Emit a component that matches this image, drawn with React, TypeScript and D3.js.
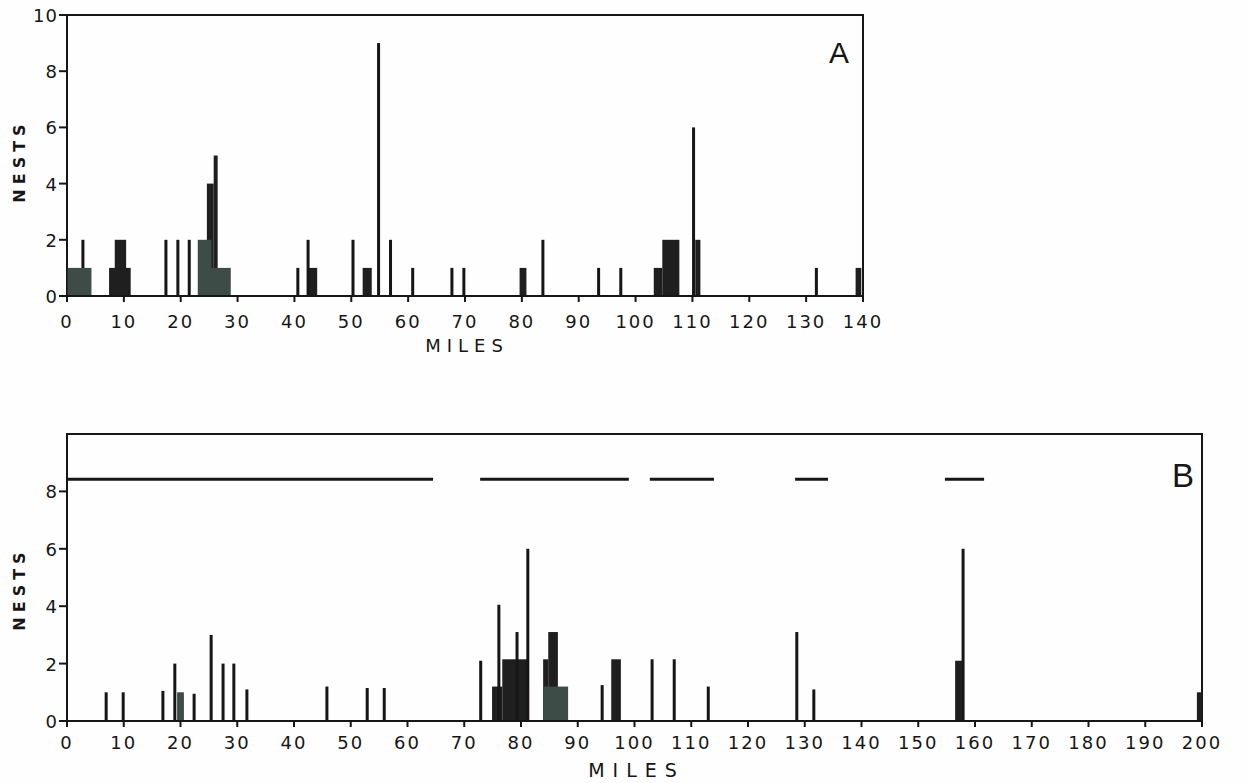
import React from "react";
import * as d3 from "d3";

// ---------- DATA ----------
// Panel A: single-site counts drawn as thin bars [mile, nests]
const aLines: [number, number][] = [
  [2.8, 2], [17.4, 2], [19.5, 2], [21.5, 2], [40.6, 1], [42.4, 2], [50.3, 2],
  [54.8, 9], [56.9, 2], [60.8, 1], [67.7, 1], [69.8, 1], [83.7, 2], [93.5, 1],
  [97.4, 1], [110.2, 6], [131.8, 1],
];
// Panel A: range blocks [startMile, endMile, nests, shade]
const aBlocks: [number, number, number, string][] = [
  [7.4, 11.2, 1, "dark"], [8.4, 10.4, 2, "dark"], [24.6, 25.8, 4, "dark"],
  [25.8, 26.5, 5, "dark"], [42.5, 44.0, 1, "dark"], [52.0, 53.6, 1, "dark"],
  [79.6, 80.8, 1, "dark"], [103.2, 104.7, 1, "dark"], [104.7, 107.7, 2, "dark"],
  [110.5, 111.4, 2, "dark"], [138.7, 139.7, 1, "dark"],
  [0.1, 4.3, 1, "gray"], [23.0, 25.4, 2, "gray"], [23.4, 28.8, 1, "gray"],
];

// Panel B
const bLines: [number, number][] = [
  [6.9, 1], [9.9, 1], [16.9, 1.05], [19.0, 2], [22.4, 0.95], [25.4, 3], [27.5, 2],
  [29.4, 2], [31.7, 1.1], [45.8, 1.2], [52.9, 1.15], [55.9, 1.15], [72.9, 2.1],
  [76.1, 4.05], [79.3, 3.1], [81.2, 6], [94.3, 1.25], [103.1, 2.15], [107.0, 2.15],
  [113.0, 1.2], [128.6, 3.1], [131.6, 1.1], [157.9, 6],
];
const bBlocks: [number, number, number, string][] = [
  [74.9, 76.7, 1.2, "dark"], [76.7, 81.1, 2.15, "dark"], [83.9, 84.8, 2.15, "dark"],
  [84.8, 86.5, 3.1, "dark"], [95.9, 97.6, 2.15, "dark"], [156.5, 157.7, 2.1, "dark"],
  [199.1, 200, 1, "dark"],
  [19.4, 20.6, 1, "gray"], [83.9, 88.3, 1.2, "gray"],
];
// Panel B: horizontal range segments near the top [startMile, endMile]
const bSegments: [number, number][] = [
  [0, 64.5], [72.8, 99.0], [102.7, 114.0], [128.3, 134.1], [154.7, 161.6],
];
const bSegmentLevel = 8.42;

const aXTicks = d3.range(0, 141, 10);
const aYTicks = [0, 2, 4, 6, 8, 10];
const bXTicks = d3.range(0, 201, 10);
const bYTicks = [0, 2, 4, 6, 8];

const yLabel = "NESTS";
const xLabel = "MILES";

// ---------- STYLE ----------
const INK = "#161616";
const FILL: Record<string, string> = { dark: "#1f1f1f", gray: "#3d4c47" };
const FONT = "'DejaVu Sans', sans-serif";

type PanelProps = {
  x: d3.ScaleLinear<number, number>;
  y: d3.ScaleLinear<number, number>;
  lines: [number, number][];
  blocks: [number, number, number, string][];
  xTicks: number[];
  yTicks: number[];
  letter: string;
  letterPos: [number, number, number];
  nestsY: number;
  tickLabelOffset: number;
  milesY: number;
  milesSize: number;
  milesSpacing: number;
  segments?: [number, number][];
};

function Panel(p: PanelProps) {
  const [x0, x1] = p.x.range();
  const [y0, y1] = p.y.range();
  const dark = p.blocks.filter((b) => b[3] === "dark");
  const gray = p.blocks.filter((b) => b[3] === "gray");
  const lw = 3;
  return (
    <g>
      {/* frame */}
      <path
        d={`M${x0},${y0 + 6} L${x0},${y1} L${x1},${y1} L${x1},${y0 + 6}`}
        fill="none"
        stroke={INK}
        strokeWidth={2}
      />
      {dark.map((b, i) => (
        <rect key={"d" + i} x={p.x(b[0])} width={p.x(b[1]) - p.x(b[0])} y={p.y(b[2])}
          height={p.y(0) - p.y(b[2])} fill={FILL.dark} />
      ))}
      {p.lines.map((l, i) => (
        <rect key={"l" + i} x={p.x(l[0]) - lw / 2} width={lw} y={p.y(l[1])}
          height={p.y(0) - p.y(l[1])} fill={INK} />
      ))}
      {gray.map((b, i) => (
        <rect key={"g" + i} x={p.x(b[0])} width={p.x(b[1]) - p.x(b[0])} y={p.y(b[2])}
          height={p.y(0) - p.y(b[2])} fill={FILL.gray} />
      ))}
      {p.segments &&
        p.segments.map((s, i) => (
          <line key={"s" + i} x1={p.x(s[0])} x2={p.x(s[1])} y1={p.y(bSegmentLevel)}
            y2={p.y(bSegmentLevel)} stroke={INK} strokeWidth={3} />
        ))}
      {/* x axis */}
      <line x1={x0} x2={x1} y1={y0} y2={y0} stroke={INK} strokeWidth={2} />
      {p.xTicks.map((t) => (
        <g key={"xt" + t}>
          <line x1={p.x(t)} x2={p.x(t)} y1={y0} y2={y0 + 6} stroke={INK} strokeWidth={2} />
          <text x={p.x(t)} y={y0 + p.tickLabelOffset} textAnchor="middle" fontFamily={FONT} fontSize={18}
            letterSpacing={2} fill={INK}>{t}</text>
        </g>
      ))}
      {p.yTicks.map((t) => (
        <g key={"yt" + t}>
          <line x1={x0 - 8} x2={x0} y1={p.y(t)} y2={p.y(t)} stroke={INK} strokeWidth={2} />
          <text x={x0 - 9} y={p.y(t) + 7} textAnchor="end" fontFamily={FONT} fontSize={18}
            letterSpacing={1} fill={INK}>{t}</text>
        </g>
      ))}
      <text transform={`translate(25,${p.nestsY}) rotate(-90)`} textAnchor="middle"
        fontFamily={FONT} fontWeight="bold" fontSize={16} letterSpacing={5} fill={INK}>
        {yLabel}
      </text>
      <text x={(x0 + x1) / 2 + 2} y={p.milesY} textAnchor="middle" fontFamily={FONT}
        fontSize={p.milesSize} letterSpacing={p.milesSpacing} fill={INK}>
        {xLabel}
      </text>
      <text x={p.letterPos[0]} y={p.letterPos[1]} textAnchor="middle" fontFamily="'Liberation Sans', sans-serif"
        fontSize={p.letterPos[2]} fill={INK}>{p.letter}</text>
    </g>
  );
}

export default function App() {
  const xA = d3.scaleLinear().domain([0, 140]).range([67, 863]);
  const yA = d3.scaleLinear().domain([0, 10]).range([296, 15]);
  const xB = d3.scaleLinear().domain([0, 200]).range([67, 1202]);
  const yB = d3.scaleLinear().domain([0, 10]).range([721, 434]);
  return (
    <svg width={1246} height={783} style={{ position: "absolute", left: 0, top: 0, background: "#fff" }}>
      <rect width={1246} height={783} fill="#fefefe" />
      <Panel x={xA} y={yA} lines={aLines} blocks={aBlocks} xTicks={aXTicks} yTicks={aYTicks}
        letter="A" letterPos={[839, 63, 30]} nestsY={161} tickLabelOffset={32}
        milesY={352} milesSize={18} milesSpacing={6} />
      <Panel x={xB} y={yB} lines={bLines} blocks={bBlocks} xTicks={bXTicks} yTicks={bYTicks}
        letter="B" letterPos={[1183, 487, 33]} nestsY={589} tickLabelOffset={28}
        milesY={777} milesSize={19} milesSpacing={8} segments={bSegments} />
    </svg>
  );
}
